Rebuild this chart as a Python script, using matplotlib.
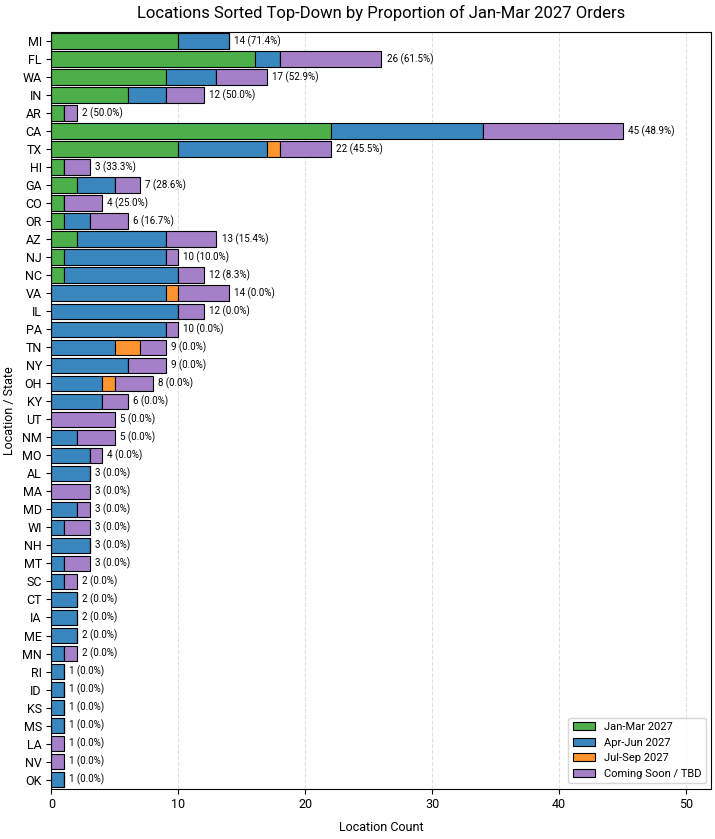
import matplotlib
matplotlib.use("Agg")
import matplotlib.pyplot as plt
import numpy as np

plt.rcParams['font.family'] = ['Roboto', 'DejaVu Sans']

states = ["MI","FL","WA","IN","AR","CA","TX","HI","GA","CO","OR","AZ","NJ","NC","VA","IL","PA","TN","NY","OH","KY","UT","NM","MO","AL","MA","MD","WI","NH","MT","SC","CT","IA","ME","MN","RI","ID","KS","MS","LA","NV","OK"]
jan_mar = [10,16,9,6,1,22,10,1,2,1,1,2,1,1,0,0,0,0,0,0,0,0,0,0,0,0,0,0,0,0,0,0,0,0,0,0,0,0,0,0,0,0]
apr_jun = [4,2,4,3,0,12,7,0,3,0,2,7,8,9,9,10,9,5,6,4,4,0,2,3,3,0,2,1,3,1,1,2,2,2,1,1,1,1,1,0,0,1]
jul_sep = [0,0,0,0,0,0,1,0,0,0,0,0,0,0,1,0,0,2,0,1,0,0,0,0,0,0,0,0,0,0,0,0,0,0,0,0,0,0,0,0,0,0]
tbd     = [0,8,4,3,1,11,4,2,2,3,3,4,1,2,4,2,1,2,3,3,2,5,3,1,0,3,1,2,0,2,1,0,0,0,1,0,0,0,0,1,1,0]

series = [("Jan-Mar 2027", jan_mar, "#4daf4a"), ("Apr-Jun 2027", apr_jun, "#3a87c0"),
          ("Jul-Sep 2027", jul_sep, "#ff9430"), ("Coming Soon / TBD", tbd, "#a57fc8")]

fig, ax = plt.subplots(figsize=(7.15, 8.39), dpi=100)
y = np.arange(len(states))
left = np.zeros(len(states))
for name, vals, col in series:
    v = np.array(vals, dtype=float)
    ax.barh(y, v, left=left, color=col, edgecolor="black", linewidth=0.8, height=0.85, label=name)
    left += v
for i, tot in enumerate(left):
    pct = 100 * jan_mar[i] / tot
    ax.text(tot + 0.4, i, f"{int(tot)} ({pct:.1f}%)", va="center", fontsize=7)

ax.set_yticks(y)
ax.set_yticklabels(states, fontsize=9)
ax.set_ylim(len(states) - 0.5, -0.5)
ax.set_xlim(0, 52)
ax.set_xticks(range(0, 51, 10))
ax.tick_params(axis='x', labelsize=9)
ax.grid(axis='x', linestyle='--', alpha=0.4)
ax.set_axisbelow(True)
ax.set_xlabel("Location Count", fontsize=9, labelpad=7)
ax.set_ylabel("Location / State", fontsize=9)
ax.set_title("Locations Sorted Top-Down by Proportion of Jan-Mar 2027 Orders", fontsize=12, pad=10)
ax.legend(loc="lower right", fontsize=8)
fig.subplots_adjust(left=0.072, right=0.995, top=0.962, bottom=0.06)
fig.savefig("out.png", dpi=100)
